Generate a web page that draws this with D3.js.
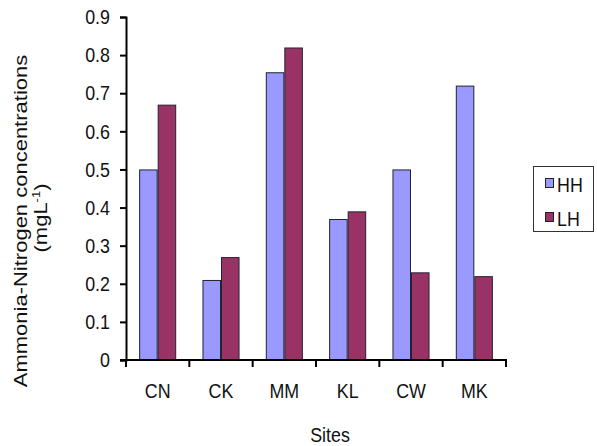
<!DOCTYPE html>
<html>
<head>
<meta charset="utf-8">
<script src="https://cdn.jsdelivr.net/npm/d3@7"></script>
<style>
  html, body { margin: 0; padding: 0; background: #fff; }
  svg { display: block; font-family: "Liberation Sans", Arial, sans-serif; }
</style>
</head>
<body>
<svg id="chart" width="597" height="446"></svg>
<script>
// Ammonia-nitrogen concentrations by site, two sampling periods
const sites = ["CN", "CK", "MM", "KL", "CW", "MK"];
const seriesNames = ["HH", "LH"];
const hhValues = [0.50, 0.21, 0.755, 0.37, 0.50, 0.72];
const lhValues = [0.67, 0.27, 0.82, 0.39, 0.23, 0.22];
const yTicks = [0, 0.1, 0.2, 0.3, 0.4, 0.5, 0.6, 0.7, 0.8, 0.9];
const seriesColors = ["#9999ff", "#993366"];

const rows = sites.map((s, i) => ({ site: s, HH: hhValues[i], LH: lhValues[i] }));

const FS = 21;        // label font size
const SQ = 0.85;      // narrow type: horizontal squeeze

const svg = d3.select("#chart");
const plot = { left: 126, right: 506, top: 17, bottom: 360 };

const x = d3.scaleBand()
  .domain(sites)
  .range([plot.left, plot.right])
  .paddingInner(0.415)
  .paddingOuter(0.2075);

const xs = d3.scaleBand()
  .domain(seriesNames)
  .range([0, x.bandwidth()]);

const y = d3.scaleLinear()
  .domain([0, 0.9])
  .range([plot.bottom, plot.top]);

const color = d3.scaleOrdinal().domain(seriesNames).range(seriesColors);

// horizontal label with narrow glyphs
function label(parent, px, py, txt, anchor) {
  return parent.append("text")
    .attr("transform", `translate(${px},${py}) scale(${SQ},1)`)
    .attr("text-anchor", anchor || "start")
    .attr("font-size", FS)
    .attr("fill", "#111")
    .text(txt);
}

// bars
svg.append("g")
  .selectAll("g")
  .data(rows)
  .join("g")
  .attr("transform", d => `translate(${x(d.site)},0)`)
  .selectAll("rect")
  .data(d => seriesNames.map(k => ({ key: k, value: d[k] })))
  .join("rect")
  .attr("x", d => xs(d.key) + 0.5)
  .attr("y", d => y(d.value) + 0.5)
  .attr("width", xs.bandwidth() - 1)
  .attr("height", d => y(0) - y(d.value) - 0.5)
  .attr("fill", d => color(d.key))
  .attr("stroke", "#222233")
  .attr("stroke-width", 1);

// y axis
const yAxis = d3.axisLeft(y)
  .tickValues(yTicks)
  .tickSize(6)
  .tickPadding(10)
  .tickFormat(d => d === 0 ? "0" : d3.format(".1f")(d));

const gy = svg.append("g")
  .attr("transform", `translate(${plot.left},0)`)
  .call(yAxis);
gy.select(".domain").attr("stroke", "#000").attr("stroke-width", 2);
gy.selectAll(".tick line").attr("stroke", "#000").attr("stroke-width", 2);
gy.selectAll(".tick text")
  .attr("x", 0)
  .attr("transform", `translate(-16,0) scale(${SQ},1)`)
  .attr("font-size", FS)
  .attr("fill", "#111")
  .attr("font-family", "Liberation Sans, Arial, sans-serif");

// x axis: baseline plus ticks on category boundaries
const step = x.step();
const edges = d3.range(sites.length + 1).map(i => plot.left + i * step);
const gx = svg.append("g");
gx.append("line")
  .attr("x1", plot.left - 6).attr("x2", plot.right + 1)
  .attr("y1", y(0)).attr("y2", y(0))
  .attr("stroke", "#000").attr("stroke-width", 2);
gx.selectAll("line.tk")
  .data(edges)
  .join("line")
  .attr("class", "tk")
  .attr("x1", d => d).attr("x2", d => d)
  .attr("y1", y(0)).attr("y2", y(0) + 7)
  .attr("stroke", "#000").attr("stroke-width", 2);
sites.forEach(s => label(gx, x(s) + x.bandwidth() / 2, 398, s, "middle"));

// axis titles
label(svg, 330, 442, "Sites", "middle");

svg.append("text")
  .attr("transform", `translate(27,221) rotate(-90) scale(1,${SQ})`)
  .attr("text-anchor", "middle")
  .attr("font-size", 22)
  .attr("fill", "#111")
  .text("Ammonia-Nitrogen concentrations");

const yTitle2 = svg.append("text")
  .attr("transform", `translate(47,218) rotate(-90) scale(1,${SQ})`)
  .attr("text-anchor", "middle")
  .attr("font-size", 22)
  .attr("fill", "#111");
yTitle2.append("tspan").text("(mgL");
yTitle2.append("tspan").attr("font-size", 13).attr("dy", -8).text("-1");
yTitle2.append("tspan").attr("dy", 8).text(")");

// legend
const legend = svg.append("g");
legend.append("rect")
  .attr("x", 533.5).attr("y", 166.5)
  .attr("width", 60).attr("height", 65)
  .attr("fill", "#fff")
  .attr("stroke", "#333").attr("stroke-width", 1);
const items = legend.selectAll("g.item")
  .data(seriesNames)
  .join("g")
  .attr("class", "item")
  .attr("transform", (d, i) => `translate(0,${178 + i * 34})`);
items.append("rect")
  .attr("x", 545.5).attr("y", 0.5)
  .attr("width", 8).attr("height", 9)
  .attr("fill", d => color(d))
  .attr("stroke", "#222").attr("stroke-width", 1);
items.each(function (d) {
  label(d3.select(this), 557, 13.5, d, "start");
});
</script>
</body>
</html>
